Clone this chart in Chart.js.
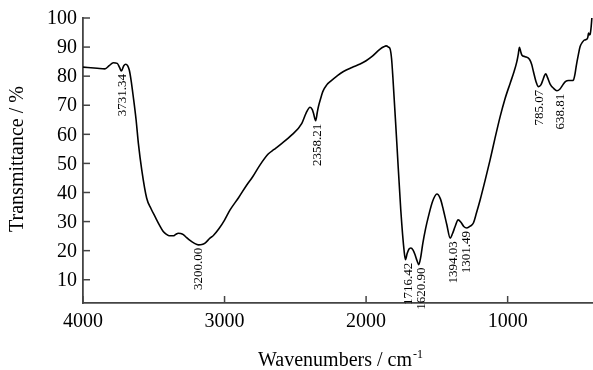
<!DOCTYPE html>
<html lang="en">
<head>
  <meta charset="UTF-8" />
  <title>FTIR Spectrum</title>
  <script src="https://cdn.jsdelivr.net/npm/chart.js"></script>
  <style>
    body { margin: 0; background: #fff; }
    canvas { display: block; }
  </style>
</head>
<body>
  <canvas id="irChart" width="593" height="370"></canvas>

  <script>
    // spectrum (wavenumber, transmittance)
    const waves = [4000, 3900, 3845, 3815, 3786, 3758, 3742, 3729, 3712, 3698, 3685, 3673, 3660, 3645, 3625, 3609, 3585, 3550, 3520, 3491,
      3460, 3433, 3410, 3390, 3362, 3345, 3327, 3310, 3291, 3268, 3244, 3215, 3185, 3160, 3138, 3103, 3079, 3040, 3000, 2961,
      2900, 2843, 2800, 2749, 2690, 2650, 2608, 2525, 2454, 2424, 2396, 2380, 2372, 2356, 2345, 2337, 2320, 2306, 2278, 2254,
      2200, 2160, 2100, 2042, 2000, 1960, 1901, 1875, 1859, 1842, 1830, 1820, 1811, 1783, 1755, 1731, 1722, 1710, 1698, 1684,
      1668, 1654, 1640, 1628, 1615, 1599, 1580, 1560, 1530, 1500, 1475, 1454, 1430, 1406, 1390, 1371, 1350, 1330, 1310, 1288,
      1265, 1242, 1220, 1194, 1160, 1124, 1090, 1053, 1020, 982, 955, 935, 925, 917, 908, 900, 876, 846, 830, 818,
      800, 782, 765, 751, 740, 730, 718, 700, 675, 652, 630, 606, 590, 570, 545, 535, 525, 516, 500, 488,
      470, 459, 440, 433, 429, 421, 417, 410, 405];
    const trans = [83.1, 82.7, 82.5, 83.6, 84.6, 84.4, 83.0, 81.8, 83.6, 84.1, 83.6, 82.1, 78.5, 73.0, 65.0, 57.0, 47.8, 38.0, 34.5, 31.7,
      28.8, 26.6, 25.6, 25.1, 25.1, 25.6, 26.0, 25.9, 25.5, 24.5, 23.5, 22.6, 22.0, 22.1, 22.6, 24.3, 25.2, 27.5, 30.5, 34.0,
      38.3, 42.6, 45.5, 49.5, 53.3, 54.8, 56.4, 59.8, 63.8, 67.3, 69.3, 68.5, 67.3, 64.7, 67.5, 69.5, 72.5, 74.7, 77.0, 78.1,
      80.3, 81.6, 83.0, 84.2, 85.3, 86.7, 89.3, 90.1, 90.4, 90.0, 89.3, 86.0, 79.8, 57.0, 34.0, 19.7, 16.9, 19.0, 20.5, 20.9,
      20.2, 18.6, 16.5, 15.2, 17.5, 22.6, 27.5, 31.7, 37.0, 39.5, 37.8, 34.0, 29.0, 24.3, 25.8, 28.3, 30.6, 29.8, 28.3, 27.8,
      28.4, 29.5, 33.0, 37.5, 44.0, 51.2, 58.5, 66.1, 72.0, 77.6, 81.5, 85.0, 87.5, 89.9, 88.5, 87.3, 86.7, 85.8, 84.0, 81.6,
      78.2, 76.4, 77.0, 78.7, 80.2, 80.8, 79.5, 77.3, 75.8, 75.0, 75.6, 77.3, 78.2, 78.5, 78.5, 78.7, 80.5, 83.3, 87.5, 90.2,
      91.8, 92.4, 92.7, 93.5, 94.8, 94.2, 94.4, 97.0, 100.0];

    // labelled bands
    const peakLabels = ['3731.34', '3200.00', '2358.21', '1716.42', '1620.90', '1394.03', '1301.49', '785.07', '638.81'];
    const peakWaves = [3731.34, 3200.00, 2358.21, 1716.42, 1620.90, 1394.03, 1301.49, 785.07, 638.81];
    const peakTrans = [81.8, 22.0, 64.7, 16.9, 15.2, 24.3, 27.8, 76.4, 75.0];

    const xTicks = [4000, 3000, 2000, 1000];
    const yTicks = [10, 20, 30, 40, 50, 60, 70, 80, 90, 100];

    const serif = '"Liberation Serif", "Times New Roman", serif';

    const points = waves.map((w, i) => ({ x: w, y: trans[i] }));

    // inward ticks, tick labels, titles and band labels
    const decorations = {
      id: 'decorations',
      afterDraw(chart) {
        const ctx = chart.ctx;
        const xs = chart.scales.x;
        const ys = chart.scales.y;
        const area = chart.chartArea;
        ctx.save();
        ctx.strokeStyle = '#444';
        ctx.lineWidth = 1.5;
        ctx.fillStyle = '#000';

        ctx.font = '20px ' + serif;
        ctx.textAlign = 'center';
        ctx.textBaseline = 'alphabetic';
        xTicks.forEach(v => {
          const px = xs.getPixelForValue(v);
          ctx.beginPath();
          ctx.moveTo(px, area.bottom);
          ctx.lineTo(px, area.bottom - 7);
          ctx.stroke();
          ctx.fillText(String(v), px, 327);
        });

        ctx.textAlign = 'right';
        ctx.textBaseline = 'middle';
        yTicks.forEach(v => {
          const py = ys.getPixelForValue(v);
          ctx.beginPath();
          ctx.moveTo(area.left, py);
          ctx.lineTo(area.left + 7, py);
          ctx.stroke();
          ctx.fillText(String(v), 77, py + 1);
        });

        // y title
        ctx.save();
        ctx.translate(18, 159);
        ctx.rotate(-Math.PI / 2);
        ctx.textAlign = 'center';
        ctx.textBaseline = 'middle';
        ctx.fillText('Transmittance / %', 0, 0);
        ctx.restore();

        // x title with superscript
        const main = 'Wavenumbers / cm';
        const sup = '-1';
        ctx.font = '20px ' + serif;
        const wMain = ctx.measureText(main).width;
        ctx.font = '12px ' + serif;
        const wSup = ctx.measureText(sup).width;
        const startX = 340 - (wMain + wSup) / 2;
        ctx.textAlign = 'left';
        ctx.textBaseline = 'alphabetic';
        ctx.font = '20px ' + serif;
        ctx.fillText(main, startX, 366);
        ctx.font = '12px ' + serif;
        ctx.fillText(sup, startX + wMain + 1, 358);

        // band labels, vertical
        ctx.font = '13px ' + serif;
        ctx.textAlign = 'right';
        ctx.textBaseline = 'middle';
        peakLabels.forEach((lab, i) => {
          const px = xs.getPixelForValue(peakWaves[i]) + 2;
          const py = ys.getPixelForValue(peakTrans[i]) + 3;
          ctx.save();
          ctx.translate(px, py);
          ctx.rotate(-Math.PI / 2);
          ctx.fillText(lab, 0, 0);
          ctx.restore();
        });

        ctx.restore();
      }
    };

    new Chart(document.getElementById('irChart').getContext('2d'), {
      type: 'line',
      data: {
        datasets: [{
          data: points,
          borderColor: '#000',
          borderWidth: 1.6,
          pointRadius: 0,
          fill: false,
          cubicInterpolationMode: 'monotone'
        }]
      },
      options: {
        responsive: false,
        animation: false,
        layout: { padding: { left: 83, right: 0, top: 18, bottom: 67 } },
        plugins: { legend: { display: false }, tooltip: { enabled: false } },
        scales: {
          x: {
            type: 'linear',
            reverse: true,
            min: 397,
            max: 4000,
            afterFit: s => { s.height = 0; },
            afterBuildTicks: s => { s.ticks = xTicks.map(v => ({ value: v })); },
            grid: { display: false, drawTicks: false },
            border: { display: true, color: '#444', width: 1.8 },
            ticks: { display: false }
          },
          y: {
            min: 2,
            max: 100,
            afterFit: s => { s.width = 0; },
            afterBuildTicks: s => { s.ticks = yTicks.map(v => ({ value: v })); },
            grid: { display: false, drawTicks: false },
            border: { display: true, color: '#444', width: 1.8 },
            ticks: { display: false }
          }
        }
      },
      plugins: [decorations]
    });
  </script>
</body>
</html>
